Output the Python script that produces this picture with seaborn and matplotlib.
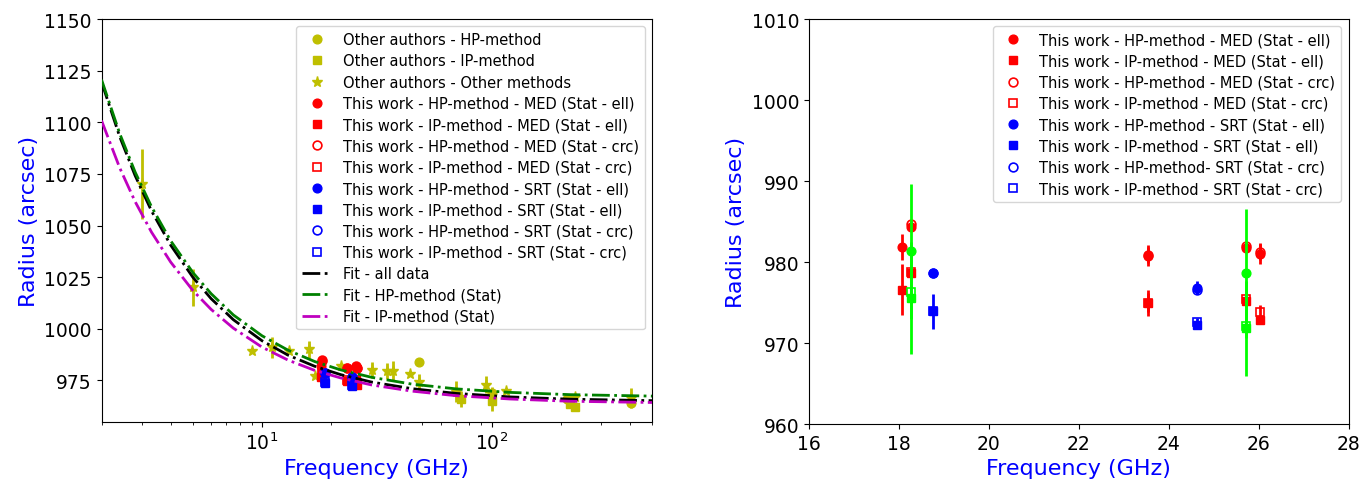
import matplotlib
matplotlib.use("Agg")
import matplotlib.pyplot as plt
import seaborn as sns

# ---------------- Left panel: other authors ----------------
oa_hp_f = [48.4, 100.0, 212.0, 405.0]
oa_hp_r = [984.0, 969.0, 966.0, 964.0]
oa_hp_e = [0.0, 3.0, 2.0, 0.0]

oa_ip_f = [73.5, 100.0, 220.0, 231.0]
oa_ip_r = [966.0, 965.0, 963.5, 962.0]
oa_ip_e = [4.0, 5.0, 2.0, 2.0]

oa_ot_f = [3.0, 5.0, 9.0, 11.0, 13.1, 16.0, 17.0, 22.0, 30.1, 35.0, 37.2, 44.2,
           48.4, 70.2, 94.4, 115.4, 231.0, 405.0]
oa_ot_r = [1070.0, 1020.0, 989.0, 991.0, 989.0, 990.0, 977.0, 982.0, 980.0, 979.5,
           979.5, 978.3, 974.0, 969.5, 973.0, 969.7, 967.0, 966.5]
oa_ot_e = [17.0, 9.0, 0.0, 5.0, 0.0, 4.0, 0.0, 0.0, 4.0, 4.0, 5.0, 0.0,
           4.0, 5.0, 4.0, 0.0, 0.0, 5.0]

# ---------------- Fits ----------------
fit_f = [2, 2.4, 2.8, 3.3, 4, 5, 6, 7.5, 10, 13, 17, 22, 30, 45, 70, 120, 220, 500]
fit_all = [1119.5, 1093.0, 1074.2, 1057.1, 1040.5, 1024.9, 1014.6, 1004.4, 994.2,
           987.2, 981.8, 977.8, 974.2, 971.0, 968.7, 967.0, 965.9, 965.2]
fit_hp = [1120.6, 1094.5, 1075.9, 1059.1, 1042.6, 1027.2, 1017.0, 1006.7, 996.6,
          989.6, 984.1, 980.1, 976.5, 973.2, 970.9, 969.2, 968.1, 967.4]
fit_ip = [1100.8, 1077.9, 1061.6, 1046.8, 1032.3, 1018.5, 1009.4, 1000.3, 991.1,
          984.8, 979.8, 976.2, 972.8, 969.8, 967.6, 966.0, 964.9, 964.3]

# ---------------- This work ----------------
med_f = [18.08, 18.27, 23.54, 25.73, 26.03]
med_hp_ell = [981.8, 984.3, 980.8, 981.7, 981.0]
med_hp_ell_e = [1.6, 0.5, 1.3, 0.5, 1.3]
med_ip_ell = [976.6, 978.6, 974.9, 975.2, 972.9]
med_ip_ell_e = [3.1, 0.7, 1.6, 0.6, 0.6]

medc_f = [18.27, 23.54, 25.73, 26.03]
med_hp_crc = [984.7, 980.9, 982.0, 981.2]
med_hp_crc_e = [0.5, 1.0, 0.5, 1.0]
med_ip_crc = [978.8, 975.0, 975.4, 973.8]
med_ip_crc_e = [0.6, 1.2, 0.6, 0.9]

srt_f = [18.77, 24.64]
srt_hp_ell = [978.6, 976.8]
srt_hp_ell_e = [0.4, 0.8]
srt_ip_ell = [973.9, 972.2]
srt_ip_ell_e = [2.2, 0.5]
srt_hp_crc = [978.7, 976.6]
srt_hp_crc_e = [0.4, 0.6]
srt_ip_crc = [974.0, 972.6]
srt_ip_crc_e = [0.5, 0.5]

comb_f = [18.27, 25.73]
comb_hp = [981.3, 978.6]
comb_hp_e = [8.3, 8.0]
comb_ip = [975.6, 971.8]
comb_ip_e = [6.9, 5.9]
comb_ip_crc = [976.3, 972.1]

plt.rcParams['font.family'] = ['DejaVu Sans']

fig = plt.figure(figsize=(13.65, 4.81), dpi=100)
ax1 = fig.add_axes([0.0744, 0.1212, 0.4033, 0.8372])
ax2 = fig.add_axes([0.5925, 0.1164, 0.3955, 0.842])


def pts(ax, f, r, e, marker, color, label=None, open_=False, ms=6.3, z=3, ew=2.0):
    if e is not None:
        ax.errorbar(f, r, yerr=e, fmt='none', ecolor=color, elinewidth=ew,
                    capsize=0, zorder=z - 0.5)
    sns.lineplot(x=f, y=r, ax=ax, estimator=None, sort=False, linestyle='',
                 marker=marker, markersize=ms, color=color,
                 markerfacecolor='none' if open_ else color,
                 markeredgecolor=color, markeredgewidth=1.2 if open_ else 1.0,
                 label=label if label else '_nolegend_', zorder=z)


def this_work(ax, lab_srt_hp_crc):
    pts(ax, med_f, med_hp_ell, med_hp_ell_e, 'o', 'red', 'This work - HP-method - MED (Stat - ell)')
    pts(ax, med_f, med_ip_ell, med_ip_ell_e, 's', 'red', 'This work - IP-method - MED (Stat - ell)')
    pts(ax, medc_f, med_hp_crc, med_hp_crc_e, 'o', 'red', 'This work - HP-method - MED (Stat - crc)', open_=True)
    pts(ax, medc_f, med_ip_crc, med_ip_crc_e, 's', 'red', 'This work - IP-method - MED (Stat - crc)', open_=True)
    pts(ax, srt_f, srt_hp_ell, srt_hp_ell_e, 'o', 'blue', 'This work - HP-method - SRT (Stat - ell)')
    pts(ax, srt_f, srt_ip_ell, srt_ip_ell_e, 's', 'blue', 'This work - IP-method - SRT (Stat - ell)')
    pts(ax, srt_f, srt_hp_crc, srt_hp_crc_e, 'o', 'blue', lab_srt_hp_crc, open_=True)
    pts(ax, srt_f, srt_ip_crc, srt_ip_crc_e, 's', 'blue', 'This work - IP-method - SRT (Stat - crc)', open_=True)


# ---- left panel ----
yel = (0.75, 0.75, 0.0)
pts(ax1, oa_hp_f, oa_hp_r, oa_hp_e, 'o', yel, 'Other authors - HP-method')
pts(ax1, oa_ip_f, oa_ip_r, oa_ip_e, 's', yel, 'Other authors - IP-method')
pts(ax1, oa_ot_f, oa_ot_r, oa_ot_e, '*', yel, 'Other authors - Other methods', ms=8)
this_work(ax1, 'This work - HP-method - SRT (Stat - crc)')
sns.lineplot(x=fit_f, y=fit_all, ax=ax1, estimator=None, sort=False, color='black',
             linestyle='-.', linewidth=2, label='Fit - all data', zorder=4)
sns.lineplot(x=fit_f, y=fit_hp, ax=ax1, estimator=None, sort=False, color='green',
             linestyle='-.', linewidth=2, label='Fit - HP-method (Stat)', zorder=4)
sns.lineplot(x=fit_f, y=fit_ip, ax=ax1, estimator=None, sort=False, color='m',
             linestyle='-.', linewidth=2, label='Fit - IP-method (Stat)', zorder=4)
ax1.set_xscale('log')
ax1.set_xlim(2, 500)
ax1.set_ylim(955, 1150)
ax1.set_yticks(list(range(975, 1151, 25)))
ax1.legend(loc='upper right', fontsize=10.5, labelspacing=0.43)

# ---- right panel ----
this_work(ax2, 'This work - HP-method- SRT (Stat - crc)')
lime = (0.0, 1.0, 0.0)
pts(ax2, comb_f, comb_hp, comb_hp_e, 'o', lime, z=5)
pts(ax2, comb_f, comb_ip, comb_ip_e, 's', lime, z=5)
pts(ax2, comb_f, comb_ip_crc, None, 's', lime, open_=True, z=5)
ax2.set_xlim(16, 28)
ax2.set_ylim(960, 1010)
ax2.set_xticks(list(range(16, 29, 2)))
ax2.set_yticks(list(range(960, 1011, 10)))
ax2.legend(loc='upper right', fontsize=10.5, labelspacing=0.43)

for ax in (ax1, ax2):
    ax.set_xlabel('Frequency (GHz)', fontsize=16, color='blue')
    ax.set_ylabel('Radius (arcsec)', fontsize=16, color='blue')
    ax.tick_params(axis='both', which='major', labelsize=13.5)

fig.savefig('out.png', dpi=100)
